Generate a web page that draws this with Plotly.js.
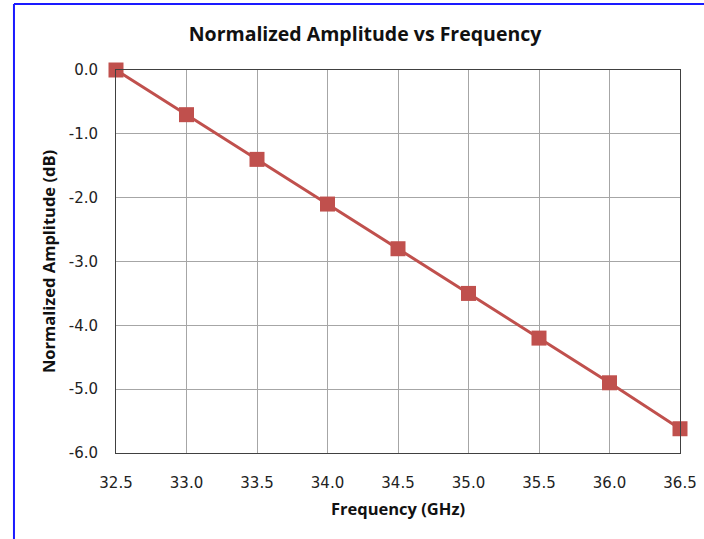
<!DOCTYPE html>
<html>
<head>
<meta charset="utf-8">
<script src="https://cdn.plot.ly/plotly-3.0.1.min.js"></script>
<style>html,body{margin:0;padding:0;background:#fff;}#chart{width:704px;height:539px;}</style>
</head>
<body>
<div id="chart"></div>
<script>
const frequency = [32.5, 33.0, 33.5, 34.0, 34.5, 35.0, 35.5, 36.0, 36.5];
const amplitude = [0.0, -0.7, -1.4, -2.1, -2.8, -3.5, -4.2, -4.9, -5.62];
const xTickVals = [32.5, 33.0, 33.5, 34.0, 34.5, 35.0, 35.5, 36.0, 36.5];
const xTickLabels = ["32.5", "33.0", "33.5", "34.0", "34.5", "35.0", "35.5", "36.0", "36.5"];
const yTickVals = [0, -1, -2, -3, -4, -5, -6];
const yTickLabels = ["0.0", "-1.0", "-2.0", "-3.0", "-4.0", "-5.0", "-6.0"];

const tickFont = {family: "DejaVu Sans, Verdana, sans-serif", size: 15, color: "#222"};
const titleFont = {family: "Open Sans, Lato, sans-serif", size: 16.5, color: "#111"};

const trace = {
  x: frequency, y: amplitude, type: "scatter", mode: "lines+markers",
  line: {color: "#C0504D", width: 3},
  marker: {symbol: "square", size: 15, color: "#C0504D"},
  cliponaxis: false, hoverinfo: "x+y"
};

const layout = {
  width: 704, height: 539,
  margin: {l: 116, r: 24, t: 70, b: 86},
  paper_bgcolor: "#fff", plot_bgcolor: "#fff",
  showlegend: false,
  title: {text: "<b>Normalized Amplitude vs Frequency</b>", font: {family: "Open Sans, Lato, sans-serif", size: 19.5, color: "#111"}, x: 0.5185, xanchor: "center", y: 0.937, yanchor: "middle"},
  xaxis: {
    range: [32.5, 36.5], tickvals: xTickVals, ticktext: xTickLabels,
    showgrid: true, gridcolor: "#a6a6a6", gridwidth: 1,
    showline: true, linecolor: "#404040", linewidth: 1, mirror: true,
    zeroline: false, ticks: "outside", ticklen: 16, tickcolor: "rgba(0,0,0,0)", tickfont: tickFont,
    title: {text: "<b>Frequency (GHz)</b>", font: titleFont, standoff: 12}
  },
  yaxis: {
    range: [-6, 0], tickvals: yTickVals, ticktext: yTickLabels,
    showgrid: true, gridcolor: "#a6a6a6", gridwidth: 1,
    showline: true, linecolor: "#404040", linewidth: 1, mirror: true,
    zeroline: false, ticks: "outside", ticklen: 14, tickcolor: "rgba(0,0,0,0)", tickfont: tickFont,
    title: {text: "<b>Normalized Amplitude (dB)</b>", font: titleFont, standoff: 8}
  },
  shapes: [
    {type: "line", xref: "paper", yref: "paper", x0: -0.1809, x1: -0.1809, y0: 1.1723, y1: -0.3, line: {color: "#1a1aff", width: 2}},
    {type: "line", xref: "paper", yref: "paper", x0: -0.1809, x1: 1.1, y0: 1.1723, y1: 1.1723, line: {color: "#1a1aff", width: 2}}
  ]
};

Plotly.newPlot("chart", [trace], layout, {displayModeBar: false, staticPlot: true});
</script>
</body>
</html>
